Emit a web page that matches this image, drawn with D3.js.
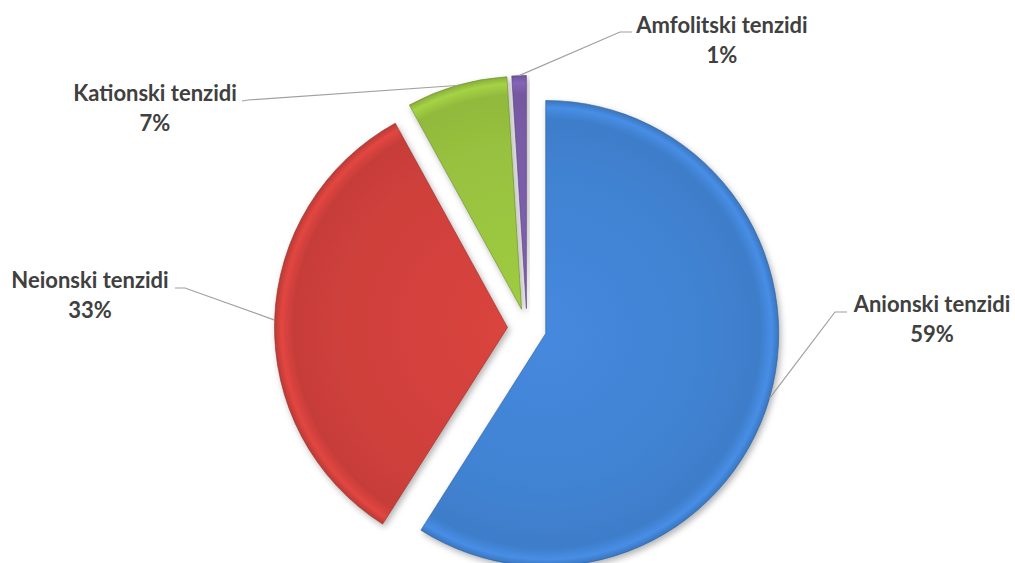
<!DOCTYPE html>
<html>
<head>
<meta charset="utf-8">
<script src="https://cdn.jsdelivr.net/npm/d3@7"></script>
<style>
  html, body { margin: 0; padding: 0; background: #ffffff; }
  svg { display: block; }
</style>
</head>
<body>
<svg id="chart" width="1015" height="563"></svg>
<script>
// ---- data ----
const categories = ["Anionski tenzidi", "Neionski tenzidi", "Kationski tenzidi", "Amfolitski tenzidi"];
const values = [59, 33, 7, 1];
const percentLabels = ["59%", "33%", "7%", "1%"];
const colors = ["#4182d2", "#cf403b", "#97c13f", "#7a5ca8"];

// ---- layout (not data) ----
const W = 1015, H = 563;
const cx = 527, cy = 328, R = 233, explode = 19.5;
// label text anchor (center x, baseline y of first line) and leader elbow points
const labelLayout = [
  { x: 932, y: 312, elbow: [[835, 312], [847, 312]] },
  { x: 90,  y: 288, elbow: [[185, 288], [175, 288]] },
  { x: 155, y: 101, elbow: [[248, 100], [242, 101]] },
  { x: 722, y: 33,  elbow: [[620, 32], [632, 32]] }
];

const svg = d3.select("#chart");
const defs = svg.append("defs");

const f = defs.append("filter").attr("id", "shadow")
  .attr("x", "-20%").attr("y", "-20%").attr("width", "140%").attr("height", "140%");
f.append("feDropShadow").attr("dx", 2).attr("dy", 3).attr("stdDeviation", 3)
  .attr("flood-color", "#000").attr("flood-opacity", 0.3);

const data = categories.map((c, i) => ({ name: c, value: values[i], pct: percentLabels[i], color: colors[i] }));

const pie = d3.pie().value(d => d.value).sort(null).startAngle(0).endAngle(2 * Math.PI);
const arcs = pie(data);
const arc = d3.arc().innerRadius(0).outerRadius(R);

arcs.forEach((a, i) => {
  const c = d3.color(a.data.color);
  const g = defs.append("radialGradient").attr("id", "grad" + i)
    .attr("gradientUnits", "userSpaceOnUse")
    .attr("cx", 0).attr("cy", 0).attr("r", R);
  g.append("stop").attr("offset", "0%").attr("stop-color", c.brighter(0.15).formatHex());
  g.append("stop").attr("offset", "70%").attr("stop-color", c.formatHex());
  g.append("stop").attr("offset", "92%").attr("stop-color", c.darker(0.12).formatHex());
  g.append("stop").attr("offset", "97%").attr("stop-color", c.brighter(0.25).formatHex());
  g.append("stop").attr("offset", "100%").attr("stop-color", c.darker(0.3).formatHex());
});

const root = svg.append("g").attr("transform", `translate(${cx},${cy})`);

arcs.forEach((a, i) => {
  const mid = (a.startAngle + a.endAngle) / 2;
  const ox = explode * Math.sin(mid), oy = -explode * Math.cos(mid);
  a.ox = ox; a.oy = oy; a.mid = mid;
  root.append("path")
    .attr("transform", `translate(${ox},${oy})`)
    .attr("d", arc(a))
    .attr("fill", `url(#grad${i})`)
    .attr("stroke", d3.color(a.data.color).darker(1).formatHex())
    .attr("stroke-opacity", 0.6)
    .attr("stroke-width", 1)
    .attr("stroke-linejoin", "round")
    .attr("filter", "url(#shadow)");
});

// leader lines
const lineGen = d3.line();
arcs.forEach((a, i) => {
  const sx = cx + a.ox + R * Math.sin(a.mid);
  const sy = cy + a.oy - R * Math.cos(a.mid);
  const pts = [[sx, sy]].concat(labelLayout[i].elbow);
  svg.append("path").attr("d", lineGen(pts))
    .attr("fill", "none").attr("stroke", "#a0a0a0").attr("stroke-width", 1.2);
});

// labels
arcs.forEach((a, i) => {
  const L = labelLayout[i];
  const t = svg.append("text")
    .attr("x", L.x).attr("y", L.y)
    .attr("text-anchor", "middle")
    .attr("font-family", "Lato, 'Open Sans', sans-serif")
    .attr("font-weight", "bold")
    .attr("font-size", 22)
    .attr("fill", "#404040");
  t.append("tspan").attr("x", L.x).attr("y", L.y).text(a.data.name);
  t.append("tspan").attr("x", L.x).attr("y", L.y + 30).text(a.data.pct);
});
</script>
</body>
</html>
